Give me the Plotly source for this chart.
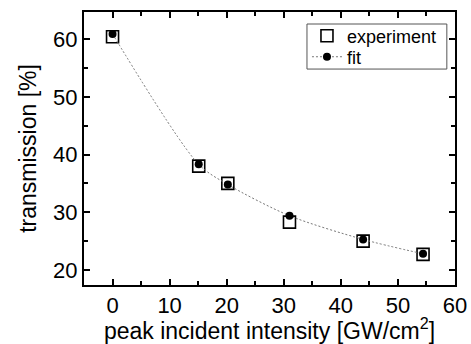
import plotly.graph_objects as go

# Peak incident intensity [GW/cm^2]
intensity = [0, 15.1, 20.2, 31.0, 43.9, 54.4]
# Measured transmission [%]
experiment = [60.4, 38.0, 35.0, 28.3, 25.0, 22.7]
# Model fit [%]
fit = [60.9, 38.3, 34.8, 29.4, 25.3, 22.8]

x_ticks = [0, 10, 20, 30, 40, 50, 60]
y_ticks = [20, 30, 40, 50, 60]

FONT = "Liberation Sans, Arial, Helvetica, sans-serif"

fig = go.Figure()

fig.add_trace(go.Scatter(
    x=intensity, y=experiment, mode="markers", name="experiment",
    legend="legend",
    marker=dict(symbol="square-open", size=12, color="black",
                line=dict(width=1.6, color="black")),
))
fig.add_trace(go.Scatter(
    x=intensity, y=fit, mode="lines+markers", name="fit",
    legend="legend2",
    line=dict(color="#777777", width=1, dash="2px,2px", shape="spline", smoothing=0.8),
    marker=dict(symbol="circle", size=8, color="black"),
))

axis_common = dict(
    showline=True, linecolor="black", linewidth=2, mirror="ticks",
    ticks="inside", ticklen=6, tickwidth=1.5, tickcolor="black",
    showgrid=False, zeroline=False, automargin=False,
    tickfont=dict(family=FONT, size=22, color="black"),
    title_font=dict(family=FONT, size=23, color="black"),
)

fig.update_xaxes(
    range=[-5, 60], tickvals=x_ticks, ticktext=[str(v) for v in x_ticks],
    minor=dict(dtick=5, ticks="inside", ticklen=4, tickwidth=1.5, tickcolor="black"),
    title_text="peak incident intensity [GW/cm<sup>2</sup>]", title_standoff=4,
    **axis_common,
)
fig.update_yaxes(
    range=[17.4, 64.7], tickvals=y_ticks, ticktext=[str(v) for v in y_ticks],
    minor=dict(dtick=5, ticks="inside", ticklen=4, tickwidth=1.5, tickcolor="black"),
    title_text="transmission [%]", title_standoff=10,
    **axis_common,
)

legend_style = dict(
    xanchor="left", yanchor="middle",
    bgcolor="rgba(0,0,0,0)", borderwidth=0,
    font=dict(family=FONT, size=18, color="black"),
    itemwidth=30,
)

fig.update_layout(
    width=471, height=344,
    margin=dict(l=84, r=16, t=12, b=59),
    plot_bgcolor="white", paper_bgcolor="white",
    showlegend=True,
    legend=dict(x=0.601, y=0.912, **legend_style),
    legend2=dict(x=0.601, y=0.835, **legend_style),
    shapes=[dict(
        type="rect", xref="paper", yref="paper",
        x0=0.601, x1=0.978, y0=0.791, y1=0.956,
        line=dict(color="#555555", width=1), layer="below",
    )],
)

fig.write_html("out.html")
